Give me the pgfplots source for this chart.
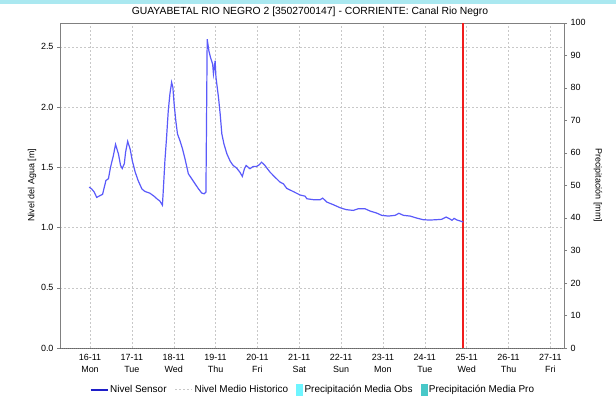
\documentclass[border=0pt]{standalone}
\usepackage{pgfplots}
\pgfplotsset{compat=1.18}
\usepackage{fontspec}
\setmainfont{Liberation Sans}
\definecolor{gridc}{RGB}{200,200,200}
\definecolor{framec}{RGB}{128,128,128}
\definecolor{lineblue}{RGB}{90,90,250}
\definecolor{legblue}{RGB}{30,30,200}
\definecolor{nowred}{RGB}{240,30,30}
\definecolor{obs}{RGB}{110,245,255}
\definecolor{pro}{RGB}{72,200,200}
\definecolor{topstrip}{RGB}{170,232,240}
\begin{document}
\begin{tikzpicture}[x=1bp,y=1bp]
\useasboundingbox (-60,-56) rectangle (556,348);
\fill[topstrip] (-60,344) rectangle (556,348);
\node[font=\fontsize{10.4}{12}\selectfont] at (250,336) {GUAYABETAL RIO NEGRO 2 [3502700147] - CORRIENTE: Canal Rio Negro};
\begin{axis}[
  at={(0,0)}, anchor=south west, scale only axis,
  width=504bp, height=325.3bp,
  xmin=15.283, xmax=27.326, ymin=0, ymax=2.7,
  axis line style={framec},
  xtick={16,...,27},
  xticklabels={{16-11\\Mon},{17-11\\Tue},{18-11\\Wed},{19-11\\Thu},{20-11\\Fri},{21-11\\Sat},{22-11\\Sun},{23-11\\Mon},{24-11\\Tue},{25-11\\Wed},{26-11\\Thu},{27-11\\Fri}},
  xticklabel style={align=center, font=\fontsize{9}{12}\selectfont},
  x tick style={draw=none},
  ytick={0,0.5,...,2.5},
  ytick pos=left,
  yticklabel style={font=\fontsize{9}{11}\selectfont, /pgf/number format/.cd, fixed, fixed zerofill, precision=1},
  /pgf/number format/assume math mode=true,
  y tick style={framec},
  tick align=outside, major tick length=3bp,
  grid=major, major grid style={gridc, dash pattern=on 2bp off 2bp},
  ylabel={Nivel del Agua [m]},
  ylabel style={at={(axis description cs:-0.0556,0.5)}, anchor=center, font=\fontsize{9}{11}\selectfont},
  legend columns=4,
  legend style={at={(axis description cs:0.502,-0.129)}, anchor=center, draw=none, fill=none,
    font=\fontsize{10}{12}\selectfont, /tikz/every even column/.append style={column sep=6bp}},
  legend cell align=left,
]
\addlegendimage{legblue, line width=1.2bp}
\addlegendentry{Nivel Sensor}
\addlegendimage{gridc, line width=1bp, dash pattern=on 2bp off 2bp}
\addlegendentry{Nivel Medio Historico}
\addlegendimage{legend image code/.code={\fill[obs] (0bp,-5bp) rectangle (6bp,6bp);}}
\addlegendentry{Precipitación Media Obs}
\addlegendimage{legend image code/.code={\fill[pro] (0bp,-5bp) rectangle (6bp,6bp);}}
\addlegendentry{Precipitación Media Pro}
\addplot[black!60, line width=1bp, dash pattern=on 1bp off 1bp, forget plot] coordinates {(15.283,0)(27.326,0)};
\addplot[color=nowred, line width=2bp, forget plot] coordinates {(24.92,0)(24.92,2.7)};
\addplot[lineblue, line width=1.2bp, forget plot] coordinates {
(15.98,1.335)(16.04,1.32)(16.10,1.295)(16.16,1.25)(16.24,1.265)(16.30,1.275)(16.38,1.39)(16.44,1.405)
(16.49,1.50)(16.56,1.60)(16.61,1.69)(16.68,1.61)(16.73,1.515)(16.77,1.49)(16.82,1.53)(16.85,1.625)
(16.90,1.715)(16.96,1.65)(17.01,1.555)(17.08,1.46)(17.15,1.39)(17.24,1.32)(17.31,1.30)(17.43,1.285)
(17.53,1.26)(17.61,1.235)(17.67,1.22)(17.73,1.185)(17.75,1.30)(17.79,1.556)(17.83,1.75)(17.87,1.97)
(17.91,2.11)(17.95,2.205)(17.98,2.163)(18.01,2.025)(18.05,1.887)(18.09,1.777)(18.15,1.72)(18.21,1.653)
(18.27,1.57)(18.35,1.446)(18.43,1.405)(18.51,1.363)(18.59,1.322)(18.67,1.286)(18.73,1.28)(18.77,1.294)
(18.785,1.915)(18.80,2.564)(18.84,2.467)(18.88,2.41)(18.93,2.357)(18.95,2.275)(18.99,2.384)(19.01,2.246)
(19.07,2.08)(19.11,1.943)(19.15,1.777)(19.20,1.694)(19.27,1.612)(19.35,1.55)(19.42,1.515)(19.50,1.495)
(19.58,1.46)(19.64,1.424)(19.69,1.488)(19.73,1.515)(19.82,1.488)(19.90,1.507)(19.98,1.507)(20.04,1.52)
(20.10,1.542)(20.18,1.515)(20.30,1.46)(20.42,1.418)(20.54,1.377)(20.62,1.363)(20.70,1.325)(20.86,1.298)
(21.02,1.27)(21.14,1.26)(21.18,1.239)(21.34,1.231)(21.50,1.231)(21.56,1.244)(21.66,1.211)(21.81,1.19)
(21.97,1.165)(22.05,1.156)(22.13,1.148)(22.29,1.142)(22.41,1.156)(22.57,1.156)(22.69,1.137)(22.85,1.12)
(22.97,1.101)(23.13,1.095)(23.29,1.101)(23.38,1.118)(23.49,1.101)(23.65,1.095)(23.81,1.078)(23.96,1.065)
(24.12,1.062)(24.28,1.065)(24.40,1.068)(24.51,1.087)(24.59,1.073)(24.65,1.06)(24.70,1.076)(24.77,1.062)
(24.85,1.054)(24.92,1.045)
};
\end{axis}
\begin{axis}[
  at={(0,0)}, anchor=south west, scale only axis,
  width=504bp, height=325.3bp,
  xmin=15.283, xmax=27.326, ymin=0, ymax=100,
  axis x line=none, axis y line*=right,
  axis line style={framec},
  ytick={0,10,...,100},
  yticklabel style={font=\fontsize{9}{11}\selectfont},
  /pgf/number format/assume math mode=true,
  y tick style={framec},
  tick align=outside, major tick length=3bp,
  ylabel={Precipitación [mm]},
  ylabel style={at={(axis description cs:1.0675,0.5)}, anchor=center, rotate=180, font=\fontsize{9}{11}\selectfont},
]
\end{axis}
\end{tikzpicture}
\end{document}
